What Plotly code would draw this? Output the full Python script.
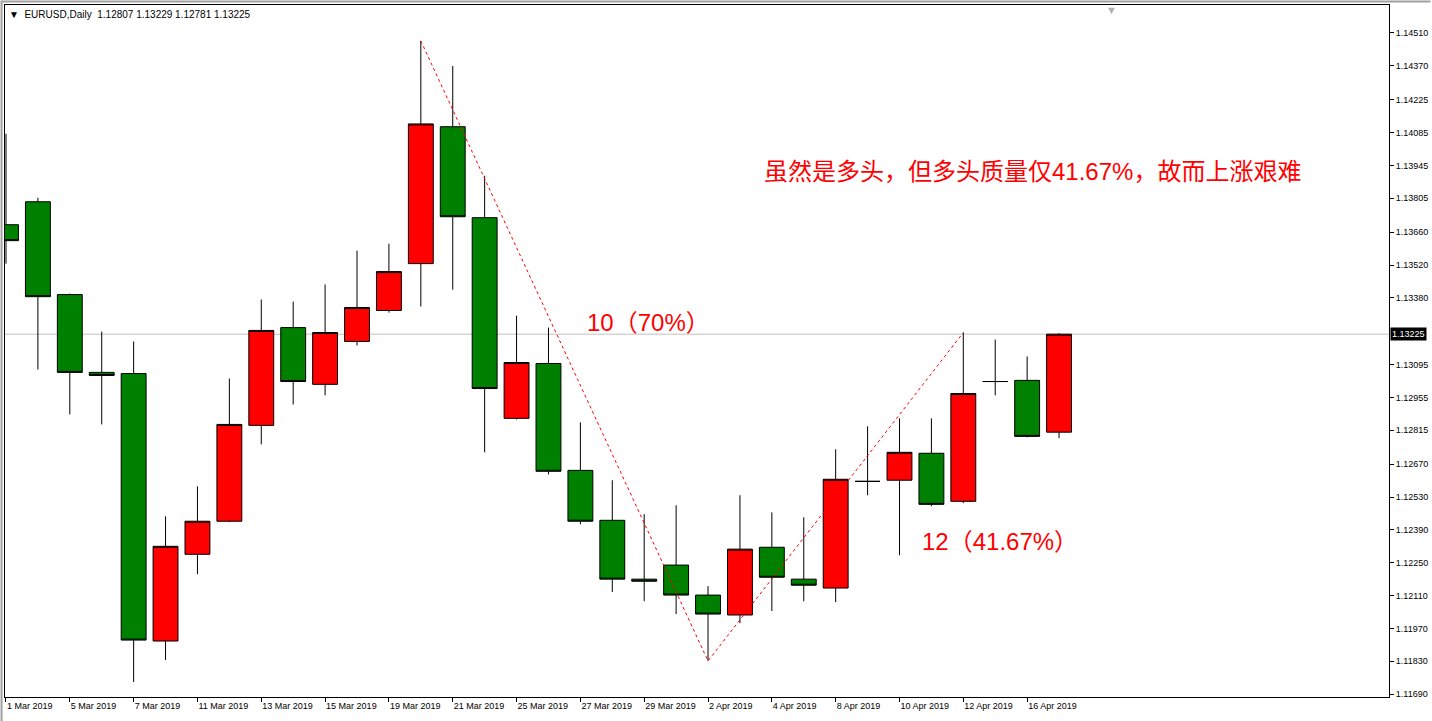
import plotly.graph_objects as go

# ---- data ----
dates = ["1 Mar 2019", "4 Mar 2019", "5 Mar 2019", "6 Mar 2019", "7 Mar 2019", "8 Mar 2019",
         "11 Mar 2019", "12 Mar 2019", "13 Mar 2019", "14 Mar 2019", "15 Mar 2019",
         "18 Mar 2019", "19 Mar 2019", "20 Mar 2019", "21 Mar 2019", "22 Mar 2019",
         "25 Mar 2019", "26 Mar 2019", "27 Mar 2019", "28 Mar 2019", "29 Mar 2019",
         "1 Apr 2019", "2 Apr 2019", "3 Apr 2019", "4 Apr 2019", "5 Apr 2019",
         "8 Apr 2019", "9 Apr 2019", "10 Apr 2019", "11 Apr 2019", "12 Apr 2019",
         "15 Apr 2019", "16 Apr 2019", "17 Apr 2019"]

open_ = [1.13692, 1.13790, 1.13394, 1.13062, 1.13057, 1.11916,
         1.12286, 1.12427, 1.12836, 1.13253, 1.13011,
         1.13194, 1.13326, 1.13526, 1.14110, 1.13722,
         1.12866, 1.13100, 1.12644, 1.12431, 1.12180,
         1.12240, 1.12112, 1.12027, 1.12316, 1.12180,
         1.12142, 1.12597, 1.12602, 1.12717, 1.12512,
         1.13023, 1.13028, 1.12807]
high = [1.14080, 1.13807, 1.13398, 1.13236, 1.13194, 1.12448,
        1.12576, 1.13036, 1.13373, 1.13364, 1.13437,
        1.13581, 1.13611, 1.14476, 1.14369, 1.13901,
        1.13304, 1.13253, 1.12849, 1.12602, 1.12457,
        1.12495, 1.12150, 1.12538, 1.12465, 1.12444,
        1.12734, 1.12832, 1.12866, 1.12866, 1.13232,
        1.13202, 1.13130, 1.13229]
low = [1.13526, 1.13074, 1.12883, 1.12840, 1.11741, 1.11835,
       1.12201, 1.12423, 1.12755, 1.12925, 1.12964,
       1.13177, 1.13317, 1.13343, 1.13415, 1.12721,
       1.12861, 1.12627, 1.12414, 1.12125, 1.12086,
       1.12031, 1.11831, 1.11992, 1.12044, 1.12086,
       1.12082, 1.12538, 1.12282, 1.12491, 1.12504,
       1.12964, 1.12785, 1.12781]
close = [1.13624, 1.13385, 1.13062, 1.13049, 1.11920, 1.12320,
         1.12427, 1.12840, 1.13241, 1.13023, 1.13232,
         1.13339, 1.13492, 1.14122, 1.13726, 1.12993,
         1.13104, 1.12640, 1.12427, 1.12180, 1.12171,
         1.12112, 1.12031, 1.12308, 1.12188, 1.12154,
         1.12606, 1.12597, 1.12721, 1.12499, 1.12972,
         1.13023, 1.12789, 1.13225]

tick_idx = list(range(0, len(dates), 2))
tick_text = [dates[i] for i in tick_idx]

y_ticks = [1.14510, 1.14370, 1.14225, 1.14085, 1.13945, 1.13805, 1.13660, 1.13520, 1.13380,
           1.13095, 1.12955, 1.12815, 1.12670, 1.12530, 1.12390, 1.12250, 1.12110,
           1.11970, 1.11830, 1.11690]
y_tick_text = ["%.5f" % v for v in y_ticks]

symbol = "EURUSD,Daily"
bid = close[-1]

# trend-line swing points (indices into the candles)
swing_high1 = 13   # 20 Mar high
swing_low = 22     # 2 Apr low
swing_high2 = 30   # 12 Apr high

ann_down = "10（70%）"
ann_up = "12（41.67%）"
ann_note = "虽然是多头，但多头质量仅41.67%，故而上涨艰难"

xs = list(range(len(dates)))

fig = go.Figure()
fig.add_trace(go.Candlestick(
    x=xs, open=open_, high=high, low=low, close=close,
    increasing=dict(line=dict(color="black", width=1), fillcolor="#ff0000"),
    decreasing=dict(line=dict(color="black", width=1), fillcolor="#008000"),
    whiskerwidth=0, hoverinfo="skip", showlegend=False,
))

# red dotted swing lines
fig.add_trace(go.Scatter(
    x=[swing_high1, swing_low, swing_high2],
    y=[high[swing_high1], low[swing_low], high[swing_high2]],
    mode="lines", line=dict(color="#ff0000", width=1, dash="dot"),
    hoverinfo="skip", showlegend=False,
))

# bid line
fig.add_shape(type="line", xref="paper", x0=0, x1=1, yref="y", y0=bid, y1=bid,
              line=dict(color="#c0c0c0", width=1), layer="below")
# window border (grey) at the left and top edges
fig.add_shape(type="line", xref="paper", yref="paper", x0=-0.0025, x1=-0.0025, y0=-0.04, y1=1.006,
              line=dict(color="#a0a0a0", width=2))
fig.add_shape(type="line", xref="paper", yref="paper", x0=-0.003, x1=1.03, y0=1.005, y1=1.005,
              line=dict(color="#a0a0a0", width=2))

FONT = "Liberation Sans, Arial, sans-serif"
CJK = "Arial, Liberation Sans, Noto Sans CJK SC, sans-serif"

annotations = [
    dict(xref="paper", yref="paper", x=0.0, y=1, xanchor="left", yanchor="top",
         xshift=2, yshift=-2, showarrow=False,
         text="▼  %s  %.5f %.5f %.5f %.5f" % (symbol, open_[-1], high[-1], low[-1], close[-1]),
         font=dict(family=FONT, size=10, color="black")),
    dict(xref="paper", yref="paper", x=(1114 - 4) / 1388, y=1, xanchor="center", yanchor="top",
         yshift=3, showarrow=False, text="▼", font=dict(family=FONT, size=11, color="#b0b0b0")),
    dict(xref="paper", yref="y", x=1, y=bid, xanchor="left", yanchor="middle", xshift=1,
         showarrow=False, text="%.5f" % bid, bgcolor="black", borderpad=1,
         font=dict(family=FONT, size=9, color="white")),
    dict(xref="x", yref="y", x=18.16, y=1.13275, xanchor="left", yanchor="middle",
         showarrow=False, text=ann_down, font=dict(family=CJK, size=24, color="#ff0000")),
    dict(xref="x", yref="y", x=28.63, y=1.12342, xanchor="left", yanchor="middle",
         showarrow=False, text=ann_up, font=dict(family=CJK, size=24, color="#ff0000")),
    dict(xref="x", yref="y", x=23.69, y=1.13918, xanchor="left", yanchor="middle",
         showarrow=False, text=ann_note, font=dict(family=CJK, size=24, color="#ff0000")),
]

fig.update_layout(
    width=1432, height=721,
    margin=dict(l=4, r=40, t=4, b=24),
    paper_bgcolor="white", plot_bgcolor="white",
    boxgap=0.22, boxgroupgap=0,
    annotations=annotations,
    hovermode=False,
    xaxis=dict(
        range=[-0.031, 43.34], rangeslider=dict(visible=False),
        tickmode="array", tickvals=tick_idx, ticktext=tick_text,
        ticks="outside", ticklen=4, tickcolor="black", ticklabelposition="outside right",
        showgrid=False, zeroline=False, showline=True, linecolor="black", linewidth=1,
        mirror=True, tickfont=dict(family=FONT, size=9, color="black"),
    ),
    yaxis=dict(
        side="right", range=[1.116772, 1.146293],
        tickmode="array", tickvals=y_ticks, ticktext=y_tick_text,
        ticks="outside", ticklen=4, tickcolor="black",
        showgrid=False, zeroline=False, showline=True, linecolor="black", linewidth=1,
        mirror=True, tickfont=dict(family=FONT, size=9, color="black"),
    ),
)

fig.write_html("out.html", config={"displayModeBar": False},
               post_script="document.body.style.margin='0';")
